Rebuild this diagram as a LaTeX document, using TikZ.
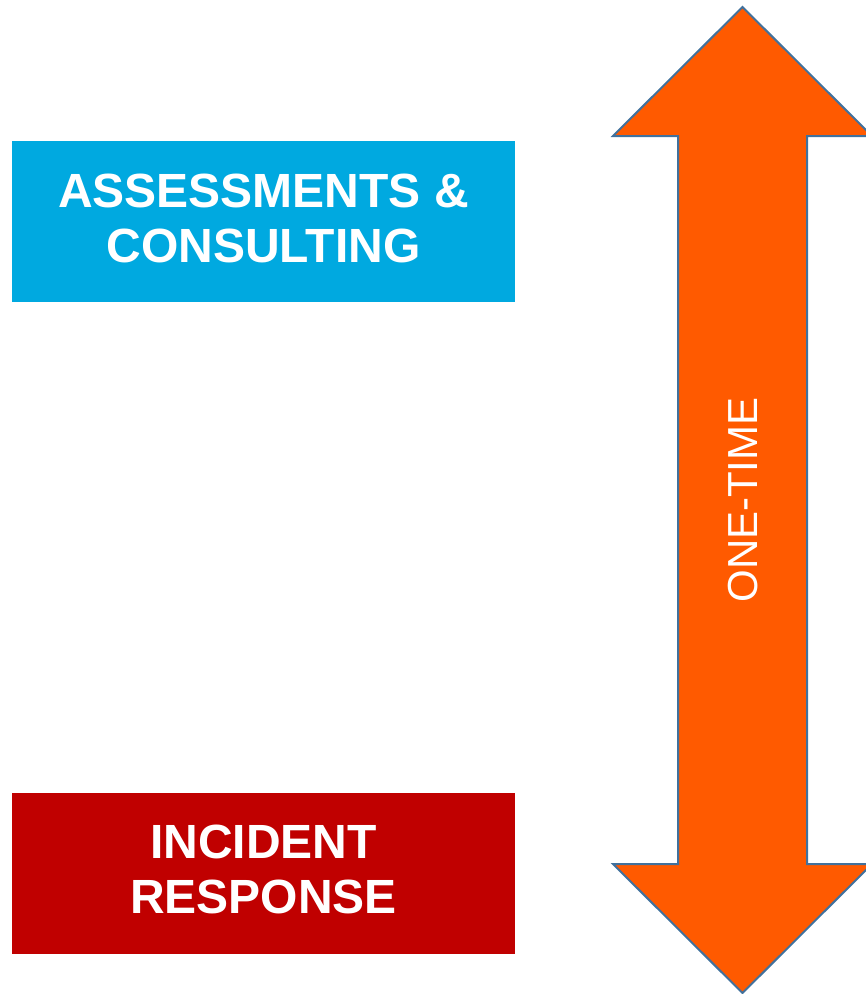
\documentclass[tikz,border=0pt]{standalone}
\usepackage{fontspec}
\setmainfont{Liberation Sans}
\definecolor{boxblue}{HTML}{00A9E0}
\definecolor{boxred}{HTML}{C00000}
\definecolor{arroworange}{HTML}{FF5A00}
\definecolor{arrowline}{HTML}{41719C}
\begin{document}
\begin{tikzpicture}[x=1pt,y=-1pt,
  service/.style={minimum width=503pt,minimum height=161pt,inner sep=0pt,
    fill=#1},
  servicetext/.style={text=white,font=\fontsize{48}{55}\selectfont\bfseries,align=center}]
\useasboundingbox (0,0) rectangle (866,994);
\node[service=boxblue] (assess) at (263.5,221) {};
\node[servicetext] (assesstext) at (263.5,218) {ASSESSMENTS \&\\CONSULTING};
\node[service=boxred] (incident) at (263.5,873) {};
\node[servicetext] (incidenttext) at (263.5,869) {INCIDENT\\RESPONSE};
\draw[fill=arroworange,draw=arrowline,line width=2pt,line join=miter]
  (742.5,7) -- (872,136) -- (807,136) -- (807,864) -- (872,864) -- (742.5,993)
  -- (613,864) -- (678,864) -- (678,136) -- (613,136) -- cycle;
\node[rotate=90,text=white,font=\fontsize{42}{42}\selectfont] (onetime) at (743,500) {ONE-TIME};
\end{tikzpicture}
\end{document}
